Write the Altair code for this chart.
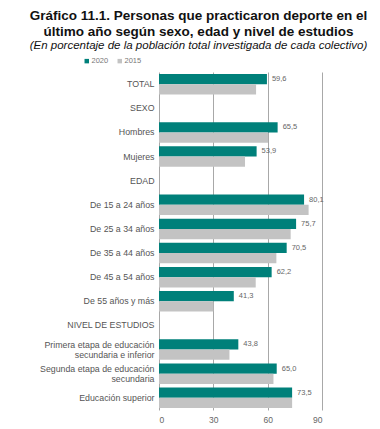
import altair as alt
import pandas as pd

categories = ["TOTAL", "SEXO", "Hombres", "Mujeres", "EDAD",
              "De 15 a 24 años", "De 25 a 34 años", "De 35 a 44 años",
              "De 45 a 54 años", "De 55 años y más", "NIVEL DE ESTUDIOS",
              "Primera etapa de educación|secundaria e inferior",
              "Segunda etapa de educación|secundaria",
              "Educación superior"]
bar_categories = ["TOTAL", "Hombres", "Mujeres",
                  "De 15 a 24 años", "De 25 a 34 años", "De 35 a 44 años",
                  "De 45 a 54 años", "De 55 años y más",
                  "Primera etapa de educación|secundaria e inferior",
                  "Segunda etapa de educación|secundaria",
                  "Educación superior"]
values_2020 = [59.6, 65.5, 53.9, 80.1, 75.7, 70.5, 62.2, 41.3, 43.8, 65.0, 73.5]
values_2015 = [53.6, 60.2, 47.5, 82.6, 72.7, 64.8, 53.4, 30.0, 38.9, 63.2, 73.5]
series = ["2020", "2015"]
x_ticks = [0, 30, 60, 90]

rows = []
for c, v in zip(bar_categories, values_2020):
    rows.append({"cat": c, "serie": "2020", "valor": v,
                 "etiqueta": f"{v:.1f}".replace(".", ",")})
for c, v in zip(bar_categories, values_2015):
    rows.append({"cat": c, "serie": "2015", "valor": v,
                 "etiqueta": f"{v:.1f}".replace(".", ",")})
df = pd.DataFrame(rows)

teal = "#00807A"
grey = "#C3C3C3"

y_enc = alt.Y("cat:N", sort=categories,
              scale=alt.Scale(domain=categories, paddingInner=0.15, paddingOuter=0.08),
              axis=alt.Axis(title=None, domain=False, ticks=False, labelPadding=5,
                            labelFontSize=8.8, labelColor="#555555",
                            labelFont="Liberation Sans", labelLineHeight=9.5,
                            labelOffset={"condition": {"test": "indexof(datum.value, '|') >= 0",
                                                       "value": -4.5},
                                         "value": 0},
                            labelExpr="split(datum.value, '|')", labelLimit=200))
yoff = alt.YOffset("serie:N", sort=series,
                   scale=alt.Scale(domain=series, paddingInner=0, paddingOuter=0))

base = alt.Chart(df)

bars = base.mark_bar().encode(
    x=alt.X("valor:Q", scale=alt.Scale(domain=[0, 90], nice=False),
            axis=alt.Axis(title=None, values=x_ticks, domain=False, ticks=False,
                          grid=True, gridColor="#A8A8A8", gridWidth=1,
                          labelFontSize=8.5, labelColor="#666666",
                          labelFont="Liberation Sans", labelPadding=5)),
    y=y_enc,
    yOffset=yoff,
    color=alt.Color("serie:N", sort=series,
                    scale=alt.Scale(domain=series, range=[teal, grey]),
                    legend=alt.Legend(title=None, orient="none", direction="horizontal",
                                      legendX=-76, legendY=-15, symbolType="square",
                                      symbolSize=20, labelFontSize=7.5, labelColor="#777777",
                                      labelFont="Liberation Sans", symbolStrokeWidth=0,
                                      columnPadding=7, labelOffset=1)),
)

texts = base.transform_filter(alt.datum.serie == "2020").mark_text(
    align="left", baseline="middle", dx=5, fontSize=7.5, color="#666666",
    font="Liberation Sans"
).encode(
    x=alt.X("valor:Q"),
    y=alt.Y("cat:N", sort=categories),
    yOffset=yoff,
    text="etiqueta:N",
)

chart = alt.layer(bars, texts).properties(
    width=163,
    height=338,
    autosize=alt.AutoSizeParams(type="none"),
    padding={"left": 151, "top": 64, "right": 50, "bottom": 19},
    title=alt.TitleParams(
        text=["Gráfico 11.1. Personas que practicaron deporte en el",
              "último año según sexo, edad y nivel de estudios"],
        subtitle="(En porcentaje de la población total investigada de cada colectivo)",
        fontSize=13.5, font="Liberation Sans", fontWeight="bold", color="#111111",
        lineHeight=16, subtitleFontSize=11.5, subtitleFont="Liberation Sans",
        subtitleFontStyle="italic", subtitleColor="#111111", subtitlePadding=1,
        anchor="middle", frame="group", dx=-42, offset=6,
    ),
).configure_view(stroke=None)

chart.save("out.html", embed_options={"renderer": "svg", "actions": False})
